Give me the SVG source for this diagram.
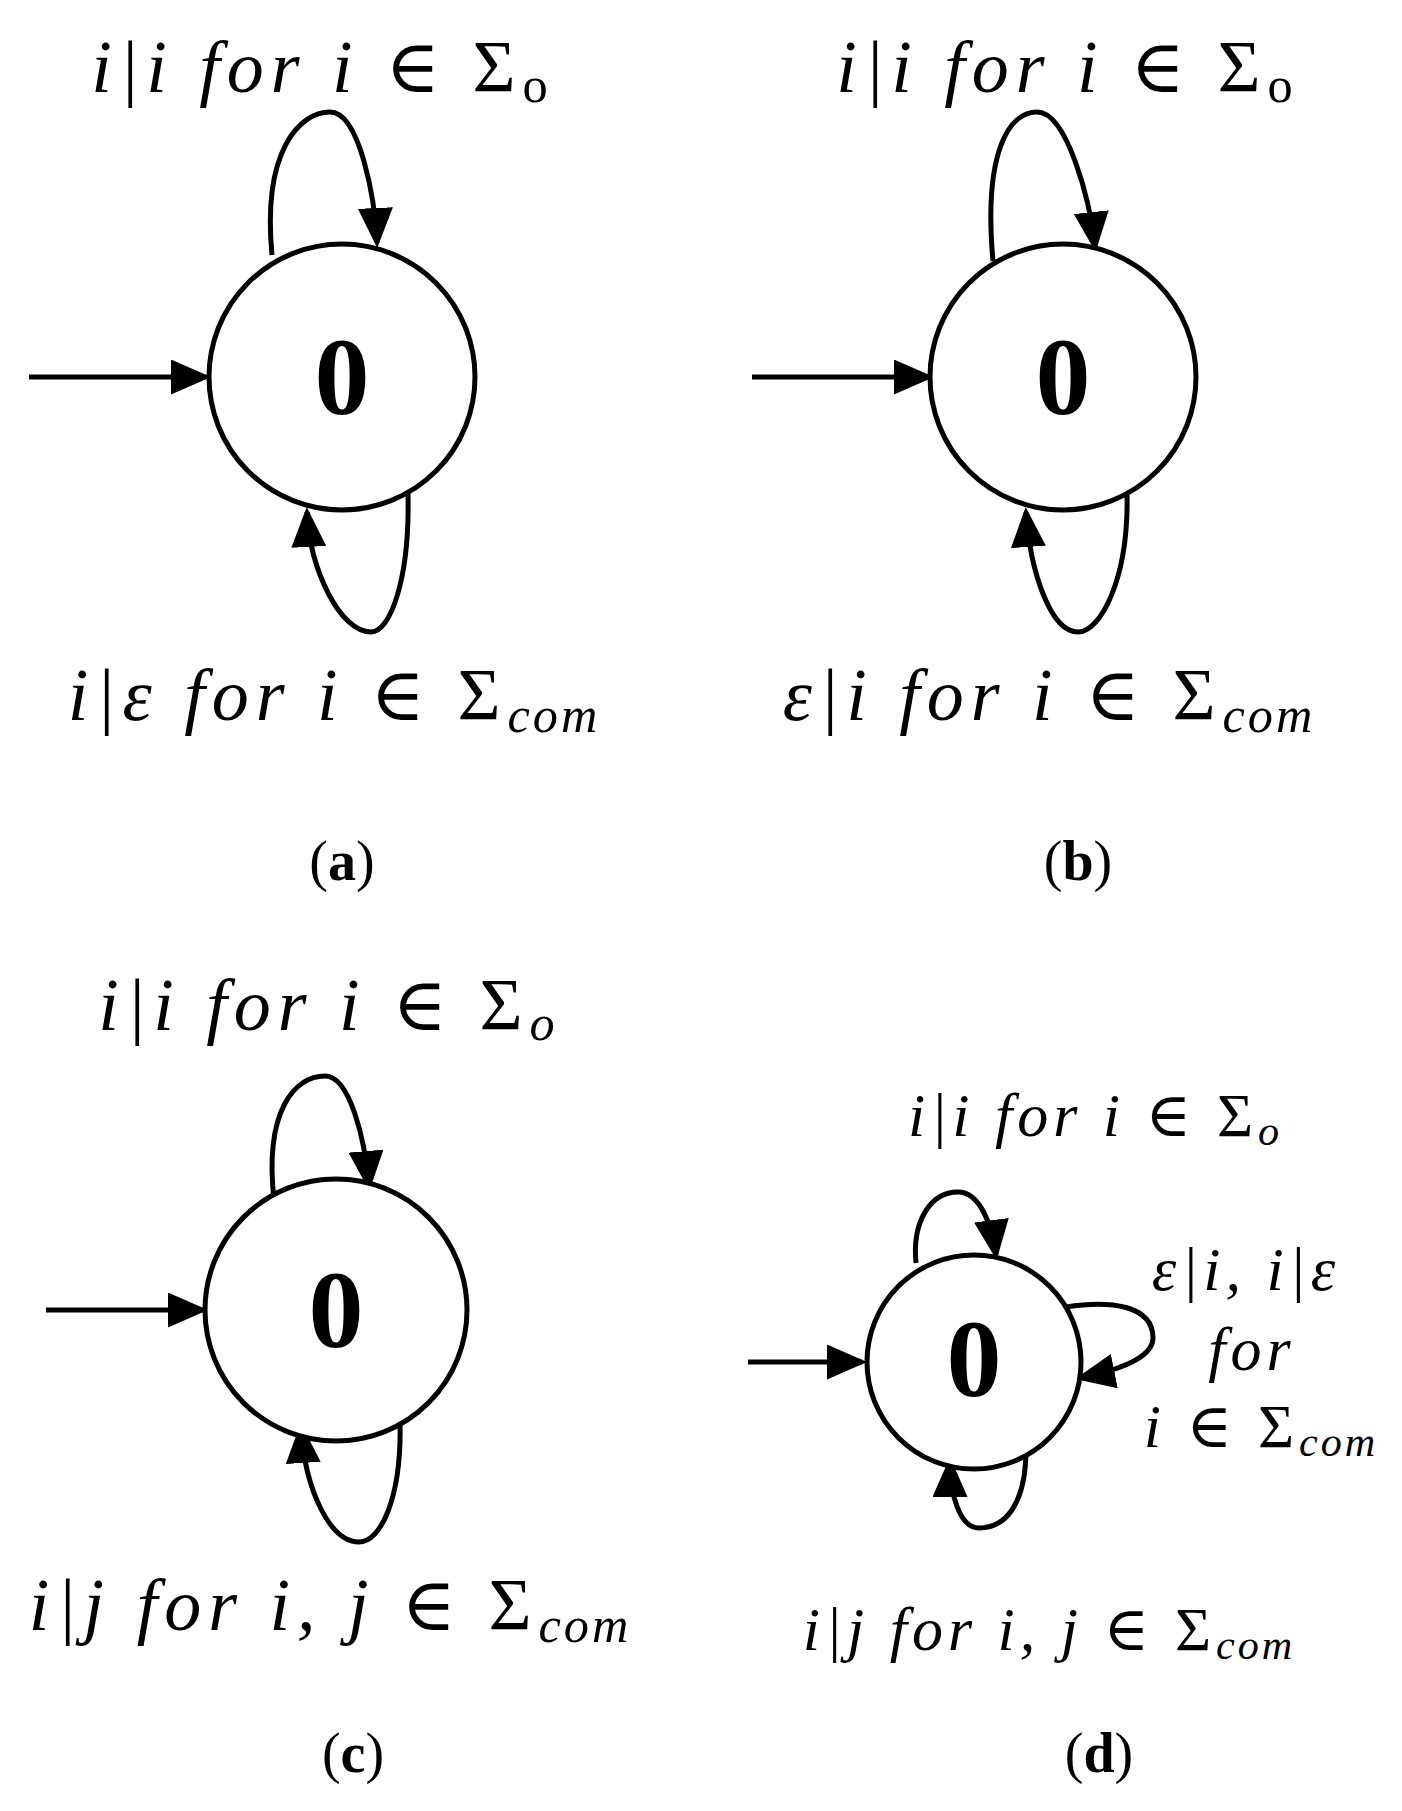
<svg xmlns="http://www.w3.org/2000/svg" width="1402" height="1811" viewBox="0 0 1402 1811">
<style>
.n{fill:#fff;stroke:#000;stroke-width:5}
.e{fill:none;stroke:#000;stroke-width:5;marker-end:url(#ah)}
.l{font-family:"Liberation Serif","DejaVu Serif",serif;font-style:italic;font-size:74px;text-anchor:middle;letter-spacing:7px}
.s{font-size:68%;letter-spacing:3px}
.u{font-style:normal}
.z{font-family:"Liberation Serif",serif;font-weight:bold;font-size:110px;text-anchor:middle}
.c{font-family:"Liberation Serif",serif;font-size:56px;text-anchor:middle}
.d .l{font-size:62px;letter-spacing:5px}
</style>
<defs><marker id="ah" markerWidth="8" markerHeight="7" refX="7" refY="3.5" orient="auto" markerUnits="strokeWidth"><path d="M0,0L8,3.5L0,7z"/></marker></defs>
<g id="connectors">
<path class="e" d="M29,377H206"/>
<path class="e" d="M272,255C262,150 300,112 330,112C360,112 375,200 377,243"/>
<path class="e" d="M408,493C410,580 390,632 371,632C340,632 310,570 307,512"/>
<path class="e" d="M752,377H929"/>
<path class="e" d="M993,261C983,150 1010,112 1037,112C1067,112 1090,200 1095,247"/>
<path class="e" d="M1127,493C1129,580 1100,632 1078,632C1050,632 1030,570 1026,512"/>
<path class="e" d="M46,1310H203"/>
<path class="e" d="M274,1200C264,1110 295,1076 325,1076C350,1076 365,1140 369,1186"/>
<path class="e" d="M400,1420C402,1500 380,1542 359,1542C330,1542 305,1490 301,1428"/>
<path class="e" d="M748,1362H862"/>
<path class="e" d="M916,1263C912,1222 930,1192 958,1192C980,1192 992,1225 996,1255"/>
<path class="e" d="M1066,1307C1110,1300 1153,1305 1153,1338C1153,1360 1110,1372 1080,1378"/>
<path class="e" d="M1026,1449C1026,1505 1005,1528 979,1528C960,1528 950,1495 950,1462"/>
</g>
<g id="a"><circle class="n" cx="342" cy="377" r="133"/><text class="z" x="342" y="414">0</text>
<text class="l" x="321" y="92">i|i for i ∈ <tspan class="u">Σ</tspan><tspan class="s u" dy="10">o</tspan></text>
<text class="l" x="334" y="720">i|ε for i ∈ <tspan class="u">Σ</tspan><tspan class="s" dy="12">com</tspan></text>
<text class="c" x="342" y="880">(<tspan font-weight="bold">a</tspan>)</text></g>
<g id="b"><circle class="n" cx="1063" cy="377" r="133"/><text class="z" x="1063" y="414">0</text>
<text class="l" x="1066" y="92">i|i for i ∈ <tspan class="u">Σ</tspan><tspan class="s u" dy="10">o</tspan></text>
<text class="l" x="1049" y="720">ε|i for i ∈ <tspan class="u">Σ</tspan><tspan class="s" dy="12">com</tspan></text>
<text class="c" x="1078" y="880">(<tspan font-weight="bold">b</tspan>)</text></g>
<g id="c"><circle class="n" cx="336" cy="1310" r="131"/><text class="z" x="336" y="1347">0</text>
<text class="l" x="328" y="1030">i|i for i ∈ <tspan class="u">Σ</tspan><tspan class="s" dy="10">o</tspan></text>
<text class="l" x="330" y="1630">i|j for i, j ∈ <tspan class="u">Σ</tspan><tspan class="s" dy="12">com</tspan></text>
<text class="c" x="353" y="1772">(<tspan font-weight="bold">c</tspan>)</text></g>
<g id="d" class="d"><circle class="n" cx="974" cy="1362" r="107"/><text class="z" x="974" y="1396" font-size="90">0</text>
<text class="l" x="1095" y="1136">i|i for i ∈ <tspan class="u">Σ</tspan><tspan class="s" dy="9">o</tspan></text>
<text class="l" x="1246" y="1290">ε|i, i|ε</text>
<text class="l" x="1252" y="1370">for</text>
<text class="l" x="1261" y="1447">i ∈ <tspan class="u">Σ</tspan><tspan class="s" dy="9">com</tspan></text>
<text class="l" x="1049" y="1650">i|j for i, j ∈ <tspan class="u">Σ</tspan><tspan class="s" dy="9">com</tspan></text>
<text class="c" x="1099" y="1772">(<tspan font-weight="bold">d</tspan>)</text></g>
</svg>
